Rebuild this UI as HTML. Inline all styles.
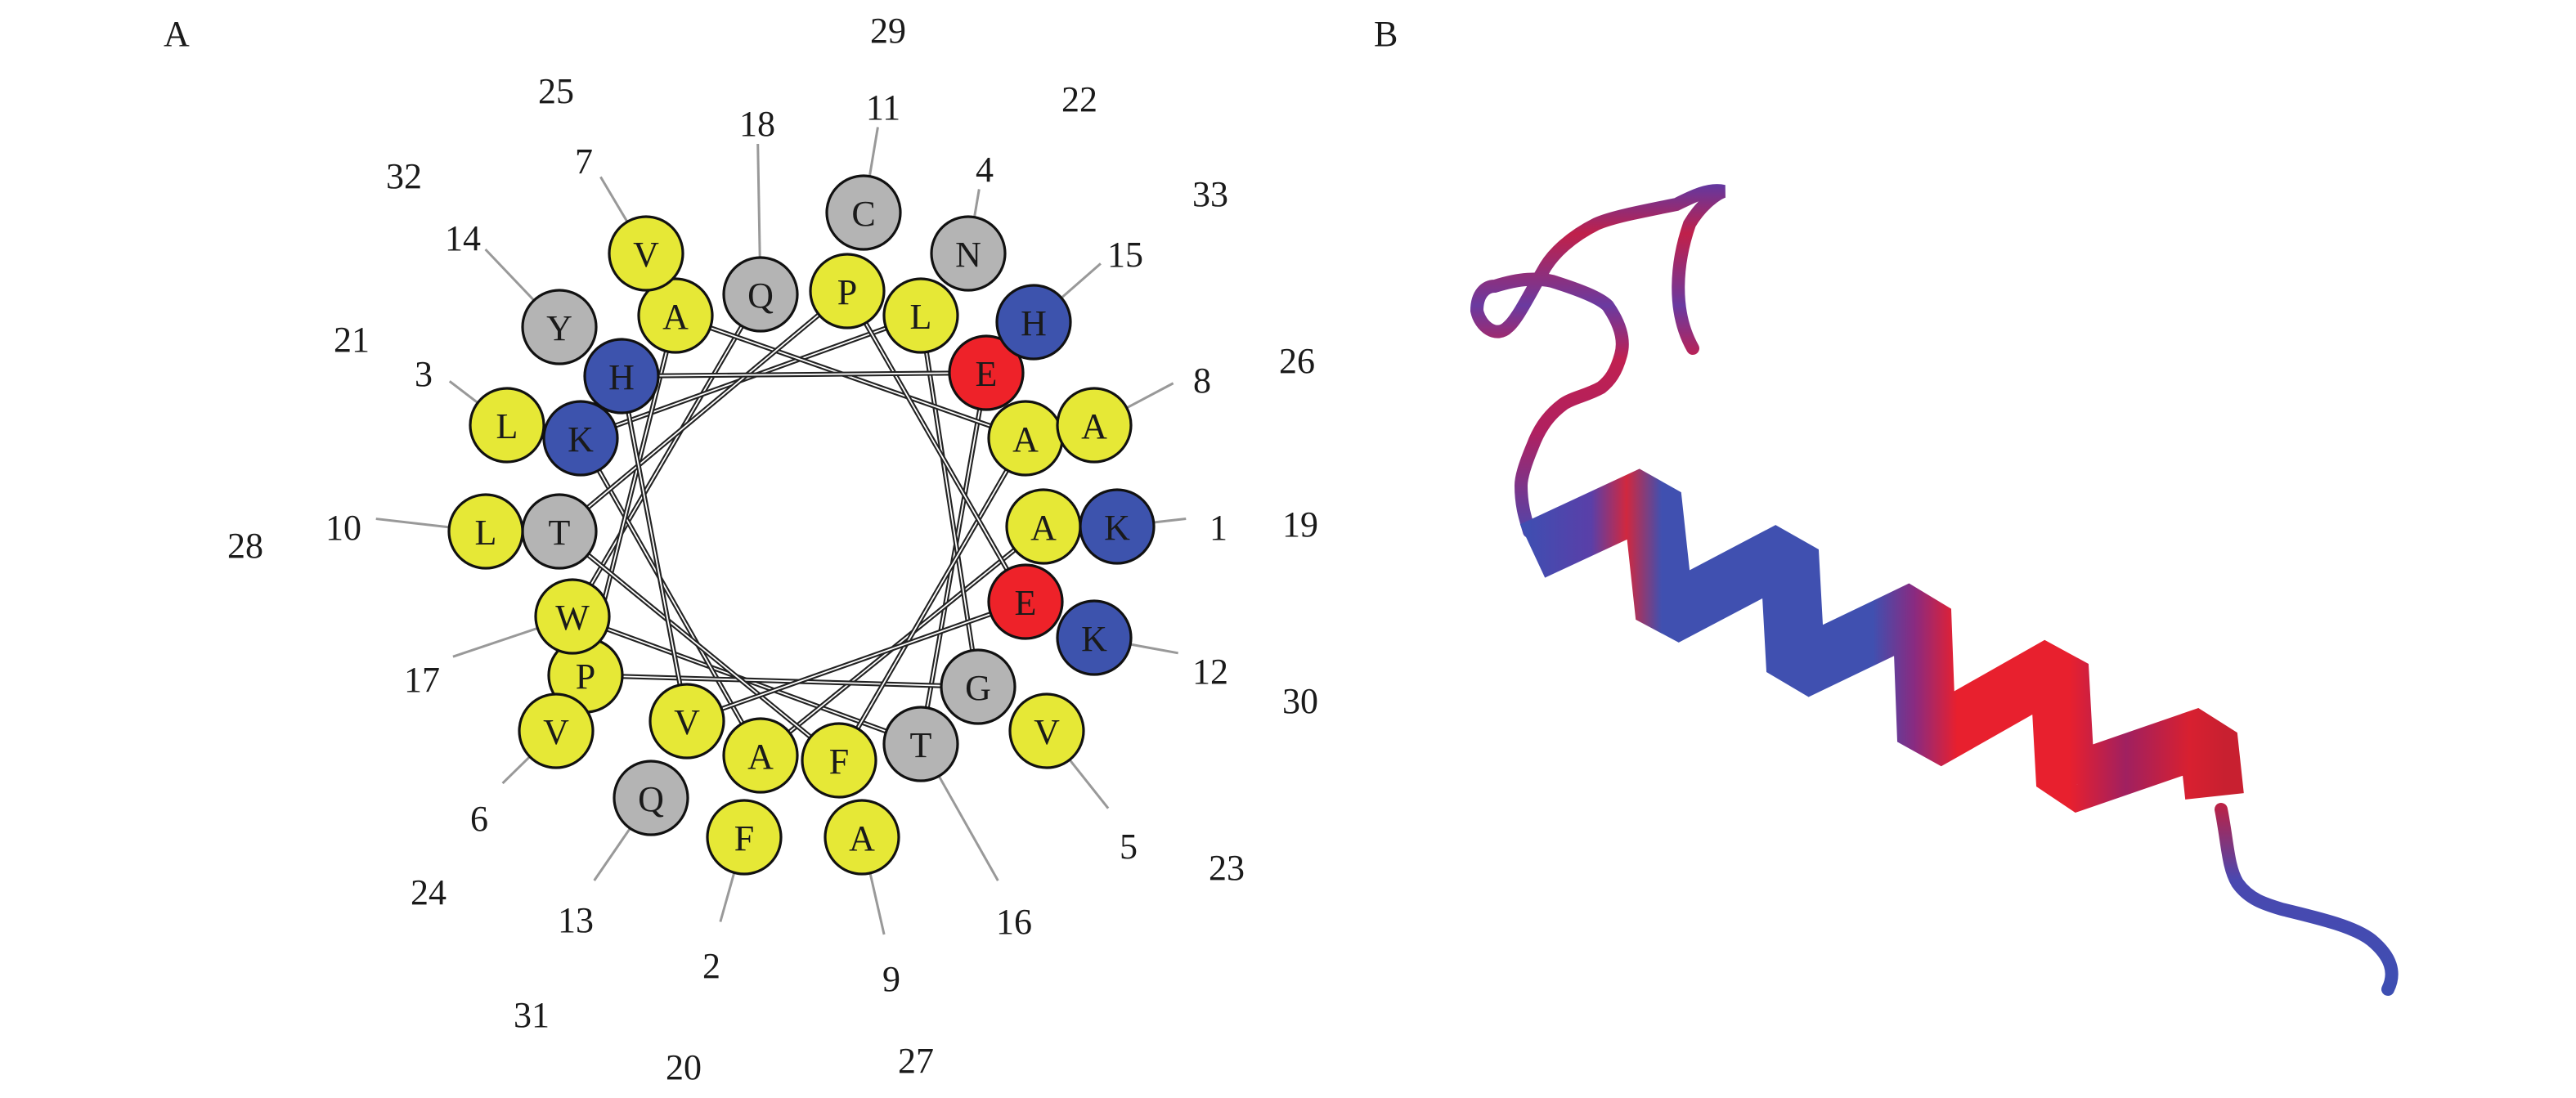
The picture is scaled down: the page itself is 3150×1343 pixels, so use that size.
<!DOCTYPE html>
<html><head><meta charset="utf-8"><style>
html,body{margin:0;padding:0;background:#fff}
svg{display:block}
text{font-family:"Liberation Serif",serif;fill:#1a1a1a}
</style></head><body>
<svg id="s" width="3150" height="1343" viewBox="0 0 1575 671.5" xmlns="http://www.w3.org/2000/svg">
<defs>
<linearGradient id="hg" gradientUnits="userSpaceOnUse" x1="930" y1="0" x2="1360" y2="0">
<stop offset="0" stop-color="#3d4fb2"/>
<stop offset="0.1" stop-color="#5a3fa8"/>
<stop offset="0.15" stop-color="#d0283f"/>
<stop offset="0.2" stop-color="#4050b0"/>
<stop offset="0.5" stop-color="#4050b0"/>
<stop offset="0.56" stop-color="#8a2a80"/>
<stop offset="0.62" stop-color="#e8202e"/>
<stop offset="0.78" stop-color="#e8202e"/>
<stop offset="0.86" stop-color="#a02060"/>
<stop offset="0.95" stop-color="#d82030"/>
<stop offset="1" stop-color="#c82030"/>
</linearGradient>
<linearGradient id="tg" gradientUnits="userSpaceOnUse" x1="0" y1="110" x2="0" y2="330">
<stop offset="0" stop-color="#5a3aa8"/>
<stop offset="0.15" stop-color="#c0204a"/>
<stop offset="0.35" stop-color="#6a3aa0"/>
<stop offset="0.5" stop-color="#c02050"/>
<stop offset="0.7" stop-color="#b02060"/>
<stop offset="1" stop-color="#4a48b0"/>
</linearGradient>
<linearGradient id="eg" gradientUnits="userSpaceOnUse" x1="0" y1="490" x2="0" y2="610">
<stop offset="0" stop-color="#c02040"/>
<stop offset="0.4" stop-color="#4a48b0"/>
<stop offset="1" stop-color="#3d4fb2"/>
</linearGradient>
</defs>
<text x="100" y="28" font-size="22">A</text>
<text x="840" y="28" font-size="22">B</text>
<g id="lines"></g><g id="lead"></g><g id="circ"></g><g id="nums" font-size="22" text-anchor="middle"></g>
<path d="M1035,213 C1022,190 1025,160 1033,137 C1040,125 1050,118 1054,117 C1045,115 1035,120 1025,125 C1000,130 985,133 976,137 C960,145 950,155 945,163 C935,180 928,195 922,200 C915,207 905,200 903,190 C903,180 908,175 914,175 C930,170 940,170 949,172 C965,177 978,182 983,187 C992,200 993,210 991,217 C988,228 984,233 979,237 C970,242 962,243 956,247 C945,255 940,265 937,273 C932,285 930,292 930,297 C930,310 933,318 935,325" fill="none" stroke="url(#tg)" stroke-width="8" stroke-linecap="round"/>
<polyline points="937,337 1010,303 1018,377 1094,337 1098,410 1175,373 1178,453 1259,407 1263,480 1350,450 1354,487" fill="none" stroke="url(#hg)" stroke-width="36" stroke-linejoin="bevel"/>
<path d="M1358,495 C1362,515 1362,530 1368,540 C1375,550 1385,553 1395,556 C1420,562 1440,567 1450,575 C1462,585 1465,595 1460,605" fill="none" stroke="url(#eg)" stroke-width="8" stroke-linecap="round"/>
</svg>
<script>
var R=[null,
["K",683,322,"b"],["F",455,512,"y"],["L",310,260,"y"],["N",592,155,"g"],["V",640,447,"y"],["V",340,447,"y"],["V",395,155,"y"],["A",669,260,"y"],["A",527,512,"y"],["L",297,325,"y"],["C",528,130,"g"],["K",669,390,"b"],["Q",398,488,"g"],["Y",342,200,"g"],["H",632,197,"b"],["T",563,455,"g"],["W",350,377,"y"],["Q",465,180,"g"],
["A",638,322,"y"],["A",465,462,"y"],["K",355,268,"b"],["L",563,193,"y"],["G",598,420,"g"],["P",358,413,"y"],["A",413,193,"y"],["A",627,268,"y"],["F",513,465,"y"],["T",342,325,"g"],["P",518,178,"y"],["E",627,368,"r"],["V",420,441,"y"],["H",380,230,"b"],["E",603,228,"r"]];
var N={1:[745,322],2:[435,590],3:[259,228],4:[602,103],5:[690,517],6:[293,500],7:[357,98],8:[735,232],9:[545,598],10:[210,322],11:[540,65],12:[740,410],13:[352,562],14:[283,145],15:[688,155],16:[620,563],17:[258,415],18:[463,75],
19:[795,320],20:[418,652],21:[215,207],22:[660,60],23:[750,530],24:[262,545],25:[340,55],26:[793,220],27:[560,648],28:[150,333],29:[543,18],30:[795,428],31:[325,620],32:[247,107],33:[740,118]};
var C={y:"#e6e836",g:"#b4b4b4",b:"#3d53ad",r:"#ee2229"};
var E=[[33,16],[16,17],[17,18]];
for(var i=19;i<33;i++)E.push([i,i+1]);
var ns="http://www.w3.org/2000/svg";
function el(p,t,a,tx){var e=document.createElementNS(ns,t);for(var k in a)e.setAttribute(k,a[k]);if(tx)e.textContent=tx;document.getElementById(p).appendChild(e);}
E.forEach(function(p){var a=R[p[0]],b=R[p[1]];
el("lines","line",{x1:a[1],y1:a[2],x2:b[1],y2:b[2],stroke:"#222","stroke-width":3});
el("lines","line",{x1:a[1],y1:a[2],x2:b[1],y2:b[2],stroke:"#fff","stroke-width":0.9});});
for(var i=1;i<=18;i++){var a=R[i],n=N[i];var dx=n[0]-a[1],dy=(n[1]-7)-a[2],d=Math.sqrt(dx*dx+dy*dy);
el("lead","line",{x1:a[1]+dx/d*23,y1:a[2]+dy/d*23,x2:a[1]+dx/d*(d-20),y2:a[2]+dy/d*(d-20),stroke:"#999","stroke-width":1.5});}
for(var i=33;i>=1;i--){var a=R[i];
el("circ","ellipse",{cx:a[1],cy:a[2],rx:22.5,ry:22.5,fill:C[a[3]],stroke:"#111","stroke-width":1.6});
el("circ","text",{x:a[1],y:a[2]+8,"font-size":22,"text-anchor":"middle"},a[0]);}
for(var k in N){el("nums","text",{x:N[k][0],y:N[k][1]+8},k);}
</script>
</body></html>
